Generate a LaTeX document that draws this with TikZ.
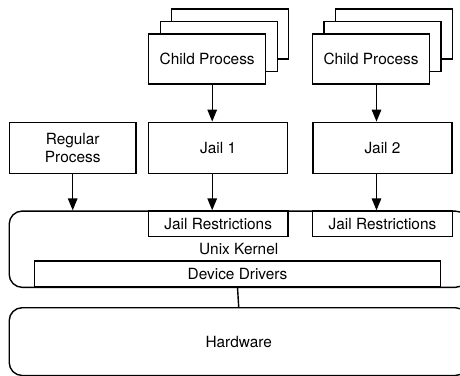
\documentclass[tikz,border=0pt]{standalone}
\usepackage{fontspec}
\setmainfont{TeX Gyre Heros}
\usetikzlibrary{arrows.meta, positioning, calc, shadows}
\tikzset{
	box/.style = {draw, line width=1.4pt, fill=white, inner sep=0pt, align=center},
	stackbox/.style = {
		box,
		copy shadow = {shadow xshift=23pt, shadow yshift=25pt, draw, fill=white, line width=1.4pt},
		copy shadow = {shadow xshift=11.5pt, shadow yshift=12.5pt, draw, fill=white, line width=1.4pt}
	},
	layer/.style = {draw, line width=1.4pt, rounded corners=13pt, inner sep=0pt},
	flow/.style = {line width=1.4pt, -{Triangle[length=12pt, width=9.5pt]}}
}

\begin{document}
\begin{tikzpicture}[x=1pt, y=-1pt]
	\useasboundingbox (0,0) rectangle (460,375);
	\tikzstyle{every node}=[font=\fontsize{15.4}{18.5}\selectfont]
	
	% processes on top
	\node [stackbox, minimum width=117pt, minimum height=50pt] (child1) at (207.2,59) {Child Process};
	\node [stackbox, minimum width=117pt, minimum height=50pt] (child2) at (371,59) {Child Process};
	\node [box, minimum width=126.7pt, minimum height=51pt] (regular) at (72.7,147.8) {Regular\\Process};
	\node [box, minimum width=139pt, minimum height=51pt] (jail1) at (218.2,147.8) {Jail 1};
	\node [box, minimum width=139pt, minimum height=51pt] (jail2) at (382.5,147.8) {Jail 2};
	
	% kernel and hardware layers
	\node [layer, minimum width=459pt, minimum height=76.3pt] (kernel) at (238.7,249.2) {Unix Kernel};
	\node [layer, minimum width=459pt, minimum height=67.8pt] (hardware) at (238.7,341.6) {Hardware};
	\node [box, minimum width=139.6pt, minimum height=25.7pt, anchor=north] (restr1) at (jail1.south |- kernel.north) {Jail Restrictions};
	\node [box, minimum width=139.6pt, minimum height=25.7pt, anchor=north] (restr2) at (jail2.south |- kernel.north) {Jail Restrictions};
	\node [box, minimum width=405.6pt, minimum height=25.6pt, anchor=south] (drivers) at (237.5,287.3) {Device Drivers};
	
	% arrows
	\coordinate (a1) at ([xshift=-6pt]jail1.center);
	\coordinate (a2) at ([xshift=-6pt]jail2.center);
	\draw [flow] (child1.south -| a1) -- (jail1.north -| a1);
	\draw [flow] (child2.south -| a2) -- (jail2.north -| a2);
	\draw [flow] (jail1.south -| a1) -- (restr1.north -| a1);
	\draw [flow] (jail2.south -| a2) -- (restr2.north -| a2);
	\draw [flow] (regular.south) -- (regular.south |- kernel.north);
	\draw [line width=1.4pt] (drivers.south) -- (hardware.north);
\end{tikzpicture}
\end{document}
